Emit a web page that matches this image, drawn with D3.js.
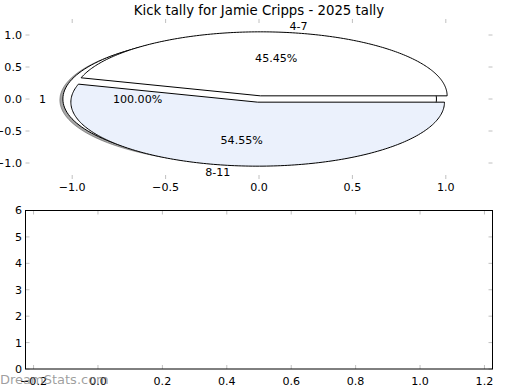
<!DOCTYPE html>
<html lang="en">
<head>
<meta charset="UTF-8">
<title>Kick tally</title>
<script src="https://d3js.org/d3.v7.min.js"></script>
<style>
  body { margin: 0; background: #fff; }
  text { font-family: "DejaVu Sans", sans-serif; }
</style>
</head>
<body>
<script>
  const title = 'Kick tally for Jamie Cripps - 2025 tally'

  // main pie: kick counts per bracket
  const sliceLabels = ['4-7', '8-11']
  const sliceValues = [5, 6]
  const sliceExplode = [0.05, 0.05]

  // total pie drawn underneath
  const totalLabels = ['1']
  const totalValues = [1]
  const totalExplode = [0.05]

  const pieTicks = [-1.0, -0.5, 0.0, 0.5, 1.0]
  const barXTicks = [-0.2, 0.0, 0.2, 0.4, 0.6, 0.8, 1.0, 1.2]
  const barYTicks = [0, 1, 2, 3, 4, 5, 6]

  const sliceColors = ['#ffffff', '#ebf1fc']
  const tickColor = '#c0c0c0'
  const width = 520
  const height = 390

  const svg = d3.select('body')
    .append('svg')
    .attr('width', width)
    .attr('height', height)

  const fmt1 = v => d3.format('.1f')(v).replace('-', '\u2212')

  // ---------- top axes (pie) ----------
  const px = d3.scaleLinear().domain([-1.25, 1.25]).range([25.5, 492.5])
  const py = d3.scaleLinear().domain([-1.25, 1.25]).range([179, 19])

  const gTop = svg.append('g')

  const line = d3.line().x(d => px(d[0])).y(d => py(d[1]))

  function wedgePts(cx, cy, a0, a1, full) {
    const n = 180
    const pts = full ? [] : [[cx, cy]]
    for (let i = 0; i <= n; i++) {
      const a = a0 + (a1 - a0) * i / n
      pts.push([cx + Math.cos(a), cy + Math.sin(a)])
    }
    return pts
  }

  const pie = d3.pie().sort(null).startAngle(0).endAngle(2 * Math.PI)

  function drawPie(labels, values, explode, colors, shadow) {
    const arcs = pie(values)
    const total = d3.sum(values)
    const out = []
    arcs.forEach((a, i) => {
      const tm = (a.startAngle + a.endAngle) / 2
      const cx = explode[i] * Math.cos(tm)
      const cy = explode[i] * Math.sin(tm)
      const full = values.length === 1
      const pts = wedgePts(cx, cy, a.startAngle, a.endAngle, full)
      if (shadow) {
        const off = 0.016
        gTop.append('path')
          .attr('d', line(pts.map(p => [p[0] - off, p[1] - off])) + 'Z')
          .attr('fill', '#4d4d4d')
          .attr('fill-opacity', 0.5)
          .attr('stroke', '#4d4d4d')
          .attr('stroke-opacity', 0.5)
      }
      gTop.append('path')
        .attr('d', line(pts) + 'Z')
        .attr('fill', colors[i])
        .attr('stroke', '#000')
        .attr('stroke-width', 1)
      out.push({
        label: labels[i],
        pct: d3.format('.2f')(values[i] / total * 100) + '%',
        lx: cx + 1.1 * Math.cos(tm),
        ly: cy + 1.1 * Math.sin(tm),
        tx: cx + 0.6 * Math.cos(tm),
        ty: cy + 0.6 * Math.sin(tm)
      })
    })
    return out
  }

  const texts = drawPie(totalLabels, totalValues, totalExplode, ['#ffffff'], true)
    .concat(drawPie(sliceLabels, sliceValues, sliceExplode, sliceColors, false))

  texts.forEach(t => {
    gTop.append('text')
      .attr('x', px(t.lx) + (t.lx > 0 ? 0 : 2)).attr('y', py(t.ly))
      .attr('dy', '0.36em')
      .attr('text-anchor', t.lx > 0 ? 'start' : 'end')
      .attr('font-size', 11.1)
      .text(t.label)
    gTop.append('text')
      .attr('x', px(t.tx)).attr('y', py(t.ty))
      .attr('dy', '0.36em')
      .attr('text-anchor', 'middle')
      .attr('font-size', 11.1)
      .text(t.pct)
  })

  // pie axes ticks (no frame)
  const tickLen = 4
  pieTicks.forEach(v => {
    gTop.append('line')
      .attr('x1', px(v)).attr('x2', px(v))
      .attr('y1', py.range()[1]).attr('y2', py.range()[1] + tickLen)
      .attr('stroke', tickColor)
    gTop.append('line')
      .attr('x1', px(v)).attr('x2', px(v))
      .attr('y1', py.range()[0]).attr('y2', py.range()[0] - tickLen)
      .attr('stroke', tickColor)
    gTop.append('line')
      .attr('x1', px.range()[0]).attr('x2', px.range()[0] + tickLen)
      .attr('y1', py(v)).attr('y2', py(v))
      .attr('stroke', tickColor)
    gTop.append('line')
      .attr('x1', px.range()[1]).attr('x2', px.range()[1] - tickLen)
      .attr('y1', py(v)).attr('y2', py(v))
      .attr('stroke', tickColor)
    gTop.append('text')
      .attr('x', px(v)).attr('y', 190.5)
      .attr('text-anchor', 'middle')
      .attr('font-size', 11.1)
      .text(fmt1(v))
    gTop.append('text')
      .attr('x', 22).attr('y', py(v))
      .attr('dy', '0.36em')
      .attr('text-anchor', 'end')
      .attr('font-size', 11.1)
      .text(fmt1(v))
  })

  svg.append('text')
    .attr('x', 259).attr('y', 14.5)
    .attr('text-anchor', 'middle')
    .attr('font-size', 13.3)
    .text(title)

  // ---------- bottom axes (empty) ----------
  const bx = d3.scaleLinear().domain([-0.225, 1.225]).range([25.5, 492.5])
  const by = d3.scaleLinear().domain([0, 6]).range([369, 210.5])

  const gBot = svg.append('g')

  barXTicks.forEach(v => {
    gBot.append('line')
      .attr('x1', bx(v)).attr('x2', bx(v))
      .attr('y1', by(0)).attr('y2', by(0) - tickLen)
      .attr('stroke', tickColor)
    gBot.append('line')
      .attr('x1', bx(v)).attr('x2', bx(v))
      .attr('y1', by(6)).attr('y2', by(6) + tickLen)
      .attr('stroke', tickColor)
    gBot.append('text')
      .attr('x', bx(v)).attr('y', 385)
      .attr('text-anchor', 'middle')
      .attr('font-size', 11.1)
      .text(fmt1(v))
  })

  barYTicks.forEach(v => {
    gBot.append('line')
      .attr('x1', bx.range()[0]).attr('x2', bx.range()[0] + tickLen)
      .attr('y1', by(v)).attr('y2', by(v))
      .attr('stroke', tickColor)
    gBot.append('line')
      .attr('x1', bx.range()[1]).attr('x2', bx.range()[1] - tickLen)
      .attr('y1', by(v)).attr('y2', by(v))
      .attr('stroke', tickColor)
    gBot.append('text')
      .attr('x', 22).attr('y', by(v))
      .attr('dy', '0.36em')
      .attr('text-anchor', 'end')
      .attr('font-size', 11.1)
      .text(v)
  })

  gBot.append('rect')
    .attr('x', bx.range()[0]).attr('y', by(6))
    .attr('width', bx.range()[1] - bx.range()[0])
    .attr('height', by(0) - by(6))
    .attr('fill', 'none')
    .attr('stroke', '#000')

  // watermark
  svg.append('text')
    .attr('x', 0).attr('y', 384)
    .attr('font-size', 13)
    .attr('fill', '#808080')
    .attr('fill-opacity', 0.75)
    .text('DreamStats.com')
</script>
</body>
</html>
